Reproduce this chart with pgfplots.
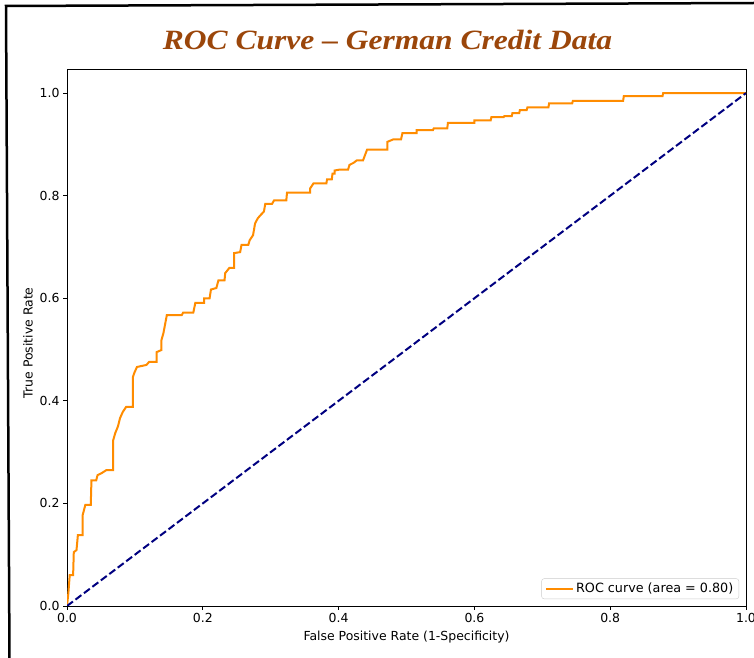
\documentclass[border=0pt]{standalone}
\usepackage{pgfplots}
\pgfplotsset{compat=1.18}
\usepackage{fontspec}
\setmainfont{DejaVu Sans}
\newfontfamily\titlefont{Liberation Serif}
\definecolor{roc}{HTML}{FF8C00}
\definecolor{navyc}{HTML}{000080}
\definecolor{titlec}{RGB}{155,70,10}
\begin{document}
\begin{tikzpicture}[x=1bp,y=1bp]
\useasboundingbox (0,0) rectangle (754,658);
\fill[white] (0,0) rectangle (754,658);
\draw[line width=2.5bp] (9.5,-2) -- (6,652) -- (756,655);
\node[anchor=base, text=titlec, xscale=1.13, font=\titlefont\bfseries\itshape\fontsize{28}{30}\selectfont] at (387.5,608) {ROC Curve – German Credit Data};
\begin{axis}[
  at={(67bp,52bp)}, anchor=south west,
  scale only axis, width=679bp, height=537bp,
  xmin=0, xmax=1, ymin=0, ymax=1.047,
  xtick={0,0.2,0.4,0.6,0.8,1}, ytick={0,0.2,0.4,0.6,0.8,1},
  xticklabels={0.0,0.2,0.4,0.6,0.8,1.0},
  yticklabels={0.0,0.2,0.4,0.6,0.8,1.0},
  xtick pos=lower, ytick pos=left,
  tick align=outside, major tick length=4bp,
  tick style={black, line width=0.8bp},
  axis line style={line width=0.8bp},
  tick label style={font=\fontsize{12.5}{15}\selectfont},
  xlabel={False Positive Rate (1-Specificity)},
  ylabel={True Positive Rate},
  label style={font=\fontsize{12.5}{15}\selectfont},
  xlabel style={at={(axis description cs:0.5,-0.0577)}, anchor=center},
  ylabel style={at={(axis description cs:-0.0574,0.49)}, anchor=center},
  legend style={at={(0.9897,0.013)}, anchor=south east, draw=black!20, rounded corners=2.5bp, font=\fontsize{12.8}{15}\selectfont, fill=white, inner xsep=3.5bp, inner ysep=2.5bp},
  legend cell align=left,
]
\addplot[roc, line width=2bp, line join=miter,
  legend image code/.code={\draw[roc, line width=2bp] (0bp,0bp) -- (27bp,0bp);}]
coordinates {
(0.000,0.000)(0.002,0.025)(0.004,0.060)(0.009,0.060)(0.010,0.105)(0.014,0.109)
(0.016,0.138)(0.023,0.138)(0.023,0.177)(0.027,0.197)(0.035,0.197)(0.036,0.245)
(0.043,0.245)(0.045,0.255)(0.051,0.259)(0.058,0.265)(0.068,0.265)(0.068,0.323)
(0.071,0.337)(0.075,0.350)(0.078,0.366)(0.082,0.378)(0.087,0.388)(0.097,0.388)
(0.097,0.446)(0.099,0.454)(0.103,0.466)(0.117,0.470)(0.121,0.476)(0.132,0.476)
(0.132,0.495)(0.139,0.499)(0.139,0.518)(0.142,0.532)(0.147,0.567)(0.169,0.567)
(0.171,0.572)(0.186,0.572)(0.189,0.591)(0.202,0.591)(0.202,0.600)(0.210,0.600)
(0.212,0.617)(0.220,0.620)(0.223,0.635)(0.232,0.635)(0.233,0.649)(0.239,0.659)
(0.246,0.659)(0.246,0.688)(0.255,0.690)(0.257,0.704)(0.267,0.704)(0.269,0.713)
(0.274,0.723)(0.277,0.746)(0.281,0.756)(0.285,0.762)(0.290,0.769)(0.292,0.784)
(0.302,0.784)(0.305,0.791)(0.323,0.791)(0.324,0.806)(0.358,0.806)(0.358,0.814)
(0.363,0.824)(0.382,0.824)(0.383,0.832)(0.390,0.832)(0.391,0.843)(0.394,0.843)
(0.394,0.849)(0.402,0.851)(0.414,0.851)(0.416,0.860)(0.422,0.864)(0.427,0.869)
(0.436,0.869)(0.442,0.890)(0.472,0.890)(0.472,0.905)(0.481,0.910)(0.492,0.910)
(0.494,0.922)(0.515,0.922)(0.515,0.928)(0.539,0.928)(0.540,0.931)(0.560,0.931)
(0.561,0.942)(0.600,0.942)(0.600,0.947)(0.624,0.947)(0.625,0.953)(0.643,0.953)
(0.644,0.955)(0.655,0.955)(0.656,0.961)(0.666,0.961)(0.667,0.967)(0.677,0.967)
(0.678,0.972)(0.709,0.972)(0.710,0.980)(0.744,0.980)(0.745,0.985)(0.819,0.985)
(0.820,0.994)(0.877,0.994)(0.878,1.000)(1.000,1.000)
};
\addlegendentry{ROC curve (area = 0.80)}
\addplot[navyc, line width=2bp, dash pattern=on 7.4bp off 3.2bp, forget plot]
coordinates {(0,0)(1,1)};
\end{axis}
\end{tikzpicture}
\end{document}
